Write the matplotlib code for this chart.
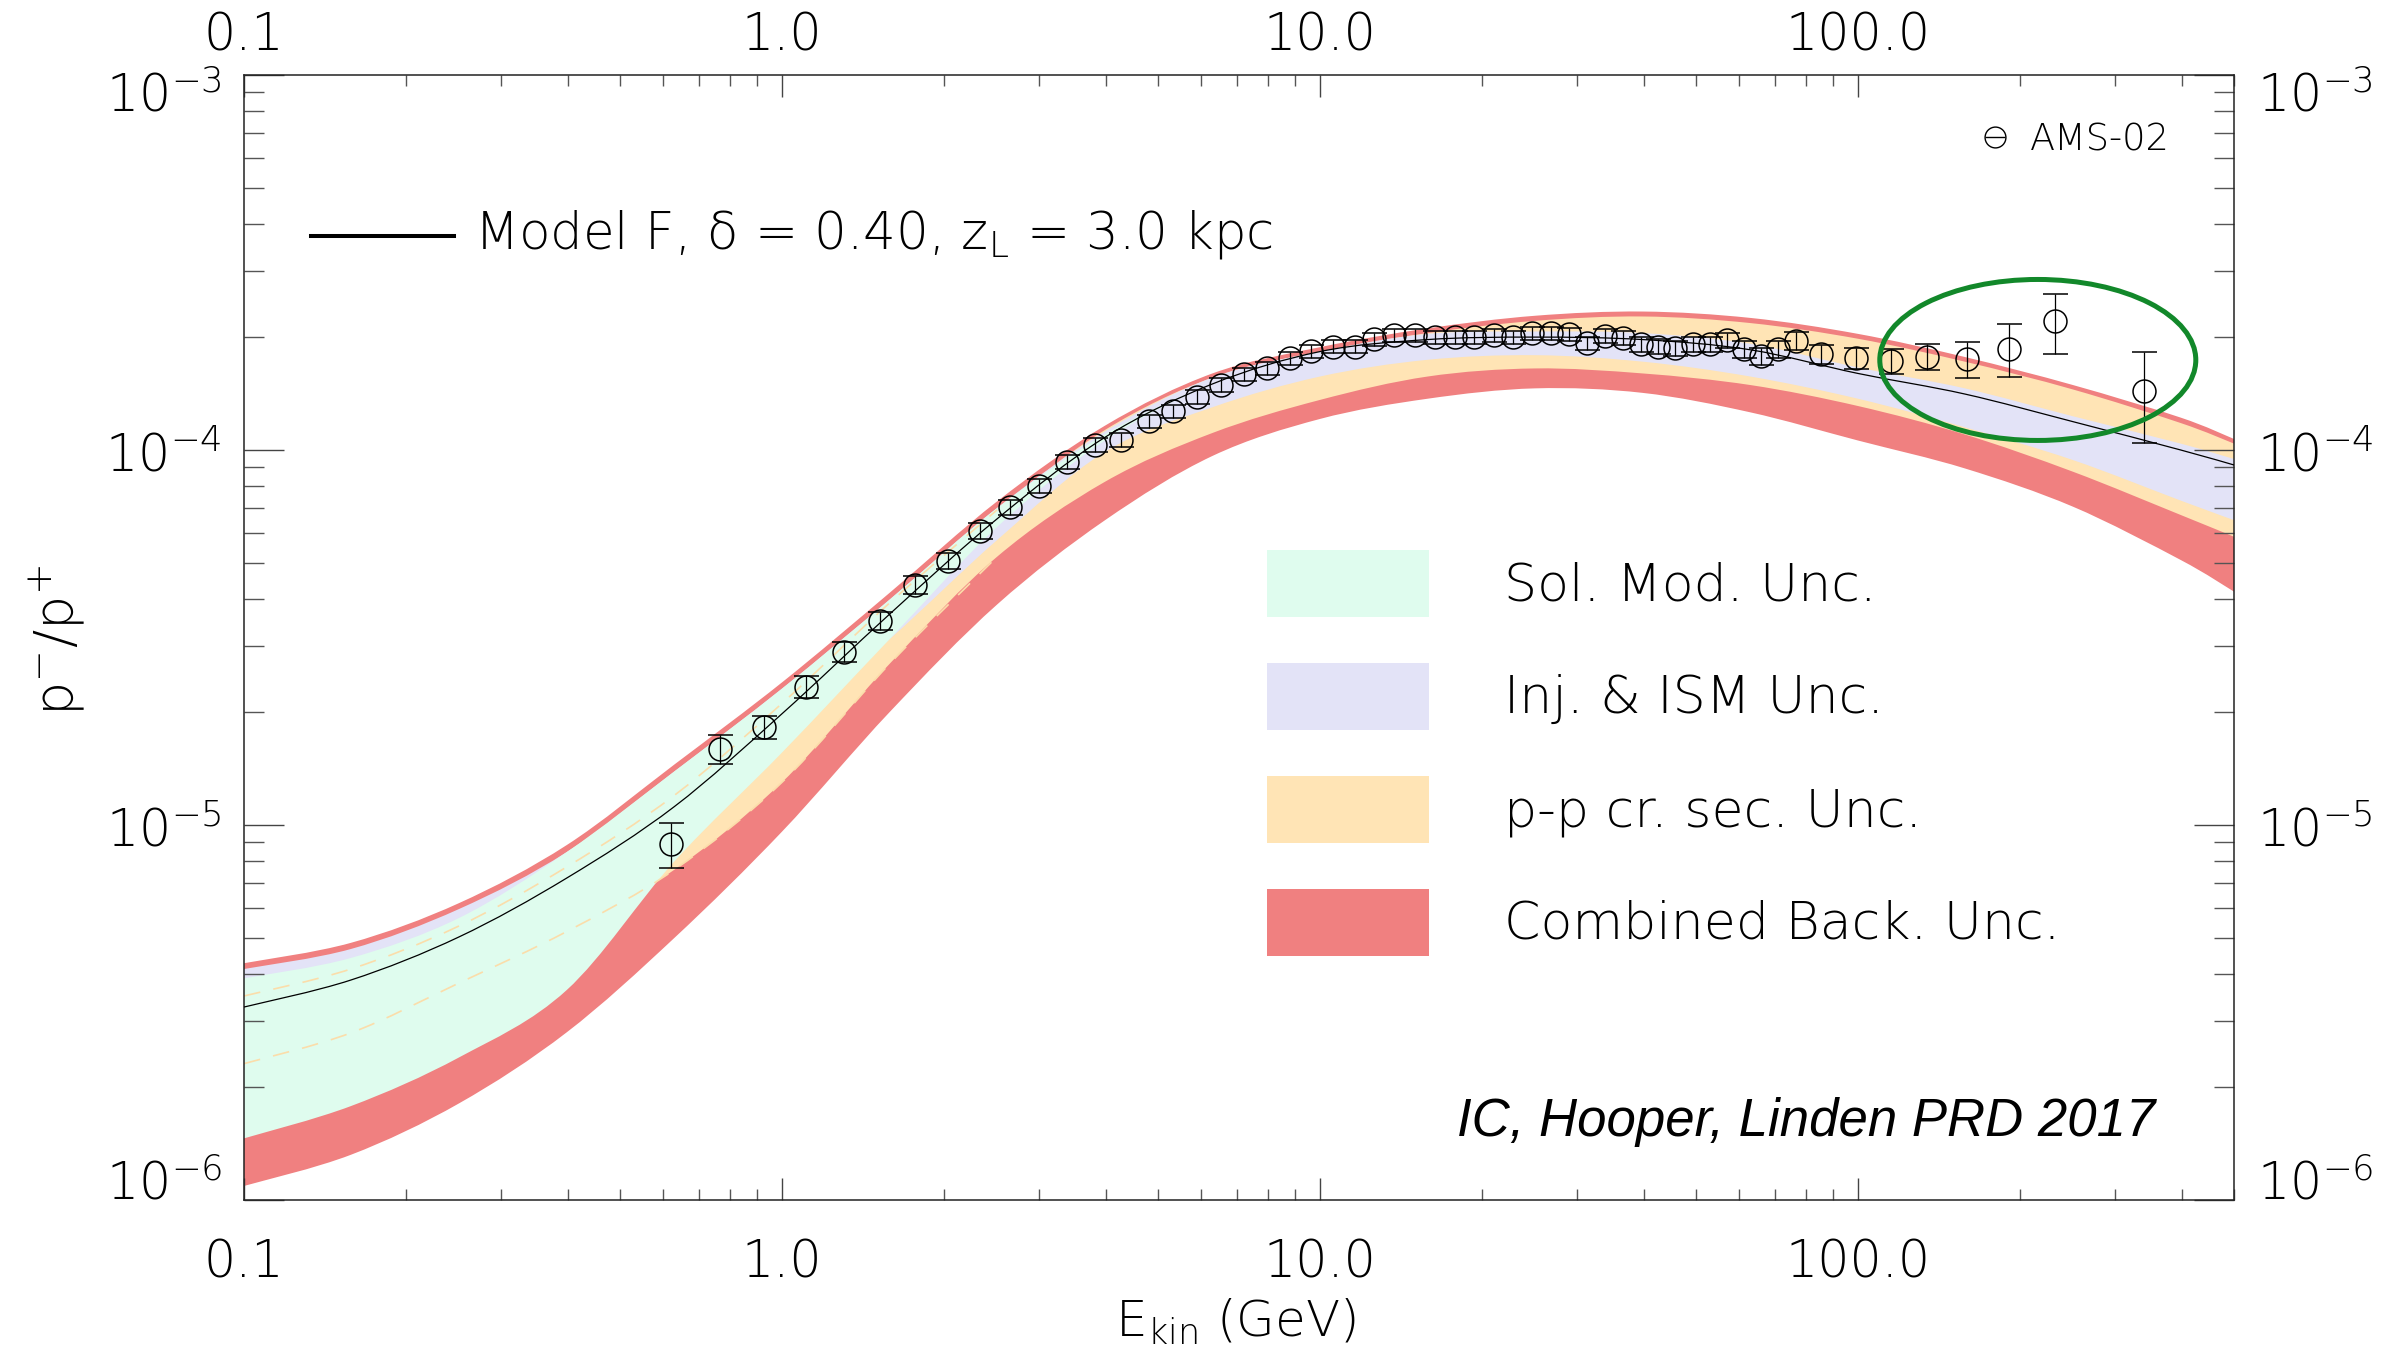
import numpy as np
import matplotlib
matplotlib.use("Agg")
import matplotlib.pyplot as plt
import matplotlib.transforms as mtransforms
from matplotlib.patches import Ellipse, Rectangle, PathPatch
from matplotlib.path import Path
from matplotlib.ticker import LogLocator, NullFormatter

# ---- background model bands (kinetic energy grid in GeV, ratio pbar/p) ----
grid_e = [0.1, 0.158, 0.251, 0.398, 0.631, 1.0, 1.585, 2.51, 3.98, 6.31,
          10.0, 15.85, 25.1, 39.8, 63.1, 100.0, 158.0, 251.0, 398.0, 500.0]

model_f = [3.27e-6, 3.86e-6, 5.03e-6, 7.22e-6, 1.12e-5, 1.98e-5, 3.65e-5, 6.55e-5, 1.08e-4, 1.50e-4,
           1.83e-4, 1.97e-4, 2.00e-4, 1.97e-4, 1.85e-4, 1.60e-4, 1.41e-4, 1.19e-4, 1.00e-4, 9.12e-5]

combined_lo = [1.09e-6, 1.32e-6, 1.81e-6, 2.80e-6, 5.00e-6, 9.60e-6, 2.00e-5, 3.87e-5, 6.49e-5, 9.64e-5,
               1.21e-4, 1.37e-4, 1.46e-4, 1.42e-4, 1.26e-4, 1.06e-4, 8.93e-5, 7.06e-5, 5.09e-5, 4.19e-5]
combined_hi = [4.28e-6, 4.85e-6, 6.19e-6, 8.84e-6, 1.45e-5, 2.40e-5, 4.16e-5, 7.29e-5, 1.16e-4, 1.60e-4,
               1.88e-4, 2.11e-4, 2.28e-4, 2.34e-4, 2.25e-4, 2.04e-4, 1.77e-4, 1.49e-4, 1.22e-4, 1.07e-4]

xsec_lo = [2.31e-6, 2.79e-6, 3.79e-6, 5.20e-6, 7.60e-6, 1.30e-5, 2.69e-5, 5.19e-5, 8.22e-5, 1.11e-4,
           1.36e-4, 1.57e-4, 1.65e-4, 1.60e-4, 1.49e-4, 1.31e-4, 1.10e-4, 8.75e-5, 6.71e-5, 5.87e-5]
xsec_hi = [3.50e-6, 4.13e-6, 5.38e-6, 7.73e-6, 1.20e-5, 2.11e-5, 3.91e-5, 6.92e-5, 1.13e-4, 1.56e-4,
           1.83e-4, 2.05e-4, 2.21e-4, 2.27e-4, 2.18e-4, 1.98e-4, 1.72e-4, 1.45e-4, 1.18e-4, 1.04e-4]

inj_lo = [2.98e-6, 3.52e-6, 4.59e-6, 6.59e-6, 1.02e-5, 1.80e-5, 3.13e-5, 5.75e-5, 9.88e-5, 1.30e-4,
          1.57e-4, 1.74e-4, 1.79e-4, 1.72e-4, 1.57e-4, 1.37e-4, 1.15e-4, 9.40e-5, 7.33e-5, 6.50e-5]
inj_hi = [4.13e-6, 4.67e-6, 5.97e-6, 8.47e-6, 1.39e-5, 2.31e-5, 3.99e-5, 7.00e-5, 1.12e-4, 1.56e-4,
          1.83e-4, 2.04e-4, 2.07e-4, 2.05e-4, 1.92e-4, 1.66e-4, 1.46e-4, 1.23e-4, 1.04e-4, 9.46e-5]

solmod_lo = [1.46e-6, 1.78e-6, 2.40e-6, 3.63e-6, 8.00e-6, 1.56e-5, 3.13e-5, 6.23e-5, 1.06e-4, 1.50e-4,
             1.83e-4, 1.97e-4, 2.00e-4, 1.97e-4, 1.85e-4, 1.60e-4, 1.41e-4, 1.19e-4, 1.00e-4, 9.12e-5]
solmod_hi = [3.90e-6, 4.42e-6, 5.65e-6, 8.47e-6, 1.39e-5, 2.31e-5, 3.99e-5, 7.00e-5, 1.10e-4, 1.50e-4,
             1.83e-4, 1.97e-4, 2.00e-4, 1.97e-4, 1.85e-4, 1.60e-4, 1.41e-4, 1.19e-4, 1.00e-4, 9.12e-5]

# ---- AMS-02 antiproton to proton ratio ----
ams_e = [0.622, 0.766, 0.926, 1.107, 1.304, 1.523, 1.766, 2.035, 2.332, 2.659,
         3.006, 3.388, 3.811, 4.274, 4.805, 5.32, 5.902, 6.546, 7.217, 7.96,
         8.786, 9.643, 10.57, 11.6, 12.6, 13.74, 15.0, 16.37, 17.82, 19.37,
         21.03, 22.83, 24.77, 26.89, 29.04, 31.37, 33.81, 36.64, 39.44, 42.53,
         45.71, 49.28, 53.08, 57.16, 61.32, 66.12, 71.15, 76.6, 85.4, 98.97,
         115.2, 134.5, 159.4, 191.0, 232.8, 340.4]
ams_ratio = [8.90e-6, 1.595e-5, 1.828e-5, 2.339e-5, 2.897e-5, 3.505e-5, 4.365e-5, 5.07e-5, 6.09e-5, 7.03e-5,
             8.02e-5, 9.31e-5, 1.031e-4, 1.063e-4, 1.193e-4, 1.268e-4, 1.384e-4, 1.493e-4, 1.592e-4, 1.652e-4,
             1.755e-4, 1.837e-4, 1.886e-4, 1.886e-4, 1.974e-4, 2.026e-4, 2.026e-4, 1.998e-4, 1.998e-4, 1.998e-4,
             2.026e-4, 1.998e-4, 2.047e-4, 2.047e-4, 2.034e-4, 1.925e-4, 2.014e-4, 1.986e-4, 1.913e-4, 1.886e-4,
             1.867e-4, 1.917e-4, 1.917e-4, 1.961e-4, 1.859e-4, 1.781e-4, 1.856e-4, 1.957e-4, 1.803e-4, 1.755e-4,
             1.729e-4, 1.773e-4, 1.745e-4, 1.862e-4, 2.208e-4, 1.437e-4]
ams_err = [1.2e-6, 1.4e-6, 1.3e-6, 1.55e-6, 1.8e-6, 2.0e-6, 2.4e-6, 2.5e-6, 3.0e-6, 3.2e-6,
           3.6e-6, 4.0e-6, 4.4e-6, 4.6e-6, 5.0e-6, 5.3e-6, 5.7e-6, 6.1e-6, 6.5e-6, 6.7e-6,
           7.0e-6, 7.3e-6, 7.5e-6, 7.5e-6, 7.8e-6, 8.0e-6, 8.0e-6, 8.0e-6, 8.0e-6, 8.0e-6,
           8.0e-6, 8.0e-6, 8.2e-6, 8.2e-6, 8.2e-6, 8.0e-6, 8.5e-6, 8.5e-6, 8.5e-6, 8.5e-6,
           8.5e-6, 9.0e-6, 9.0e-6, 9.5e-6, 9.5e-6, 9.5e-6, 1.0e-5, 1.05e-5, 1.05e-5, 1.1e-5,
           1.3e-5, 1.43e-5, 1.9e-5, 3.0e-5, 4.0e-5, 3.9e-5]

x_ticks = [0.1, 1.0, 10.0, 100.0]
x_tick_text = ["0.1", "1.0", "10.0", "100.0"]
y_ticks = [1e-3, 1e-4, 1e-5, 1e-6]
y_tick_text = [r"$10^{-3}$", r"$10^{-4}$", r"$10^{-5}$", r"$10^{-6}$"]

band_labels = ["Sol. Mod. Unc.", "Inj. & ISM Unc.", "p-p cr. sec. Unc.", "Combined Back. Unc."]
c_sol, c_inj, c_xsec, c_comb = "#DFFCEE", "#E3E3F7", "#FFE4B5", "#F08080"

plt.rcParams["font.family"] = ["DejaVu Sans"]
plt.rcParams["font.weight"] = 200
plt.rcParams["mathtext.fontset"] = "custom"
plt.rcParams["mathtext.rm"] = "DejaVu Sans:weight=200"
plt.rcParams["mathtext.it"] = "DejaVu Sans:weight=200"
plt.rcParams["mathtext.default"] = "rm"


def spline_verts(xs, ys):
    # Catmull-Rom through the points, done in log-log space, as cubic Bezier vertices
    p = np.column_stack([np.log10(xs), np.log10(ys)])
    n = len(p)
    verts = [p[0]]
    for i in range(n - 1):
        a = p[max(i - 1, 0)]
        b, c = p[i], p[i + 1]
        d = p[min(i + 2, n - 1)]
        verts += [b + (c - a) / 6.0, c - (d - b) / 6.0, c]
    return 10 ** np.array(verts)


def curve_path(xs, ys):
    v = spline_verts(xs, ys)
    return Path(v, [Path.MOVETO] + [Path.CURVE4] * (len(v) - 1))


def band_path(xs, lo, hi):
    up = spline_verts(xs, hi)
    dn = spline_verts(xs[::-1], lo[::-1])
    v = np.vstack([up, dn, up[:1]])
    codes = ([Path.MOVETO] + [Path.CURVE4] * (len(up) - 1) + [Path.LINETO]
             + [Path.CURVE4] * (len(dn) - 1) + [Path.CLOSEPOLY])
    return Path(v, codes)


fig = plt.figure(figsize=(23.93, 13.60), dpi=100)
ax = fig.add_axes([0.10197, 0.11765, 0.83159, 0.82721])
ax.set_xscale("log")
ax.set_yscale("log")
ax.set_xlim(0.1, 500)
ax.set_ylim(1e-6, 1e-3)

# uncertainty bands, widest first
for lo, hi, col, z in [(combined_lo, combined_hi, c_comb, 1.0), (xsec_lo, xsec_hi, c_xsec, 1.1),
                       (inj_lo, inj_hi, c_inj, 1.2), (solmod_lo, solmod_hi, c_sol, 1.3)]:
    ax.add_patch(PathPatch(band_path(grid_e, lo, hi), fc=col, ec="none", lw=0, zorder=z))
for edge in (xsec_hi, xsec_lo):
    ax.add_patch(PathPatch(curve_path(grid_e[:8], edge[:8]), fill=False, ec="#FBDDAA",
                           lw=1.2, ls=(0, (10, 8)), zorder=2))

ax.add_patch(PathPatch(curve_path(grid_e, model_f), fill=False, ec="black", lw=0.9, zorder=3))

ax.errorbar(ams_e, ams_ratio, yerr=ams_err, fmt="o", ms=16.5, mfc="none", mec="black",
            mew=1.1, ecolor="black", elinewidth=0.9, capsize=9, capthick=0.9, zorder=4)

ax.add_patch(Ellipse((0.9014, 0.7467), 0.1588, 0.1431, transform=ax.transAxes,
                     fill=False, ec="#12882A", lw=3.6, zorder=5))

for axis in (ax.xaxis, ax.yaxis):
    axis.set_major_locator(LogLocator(base=10, numticks=12))
    axis.set_minor_locator(LogLocator(base=10, subs=np.arange(2, 10), numticks=12))
    axis.set_major_formatter(NullFormatter())
    axis.set_minor_formatter(NullFormatter())
ax.tick_params(axis="x", which="major", direction="in", length=15.8, width=1.0,
               top=True, bottom=True, color="#444444")
ax.tick_params(axis="x", which="minor", direction="in", length=7.9, width=1.0,
               top=True, bottom=True, color="#555555")
ax.tick_params(axis="y", which="major", direction="in", length=28.8, width=1.0,
               left=True, right=True, color="#444444")
ax.tick_params(axis="y", which="minor", direction="in", length=14.4, width=1.0,
               left=True, right=True, color="#555555")
for sp in ax.spines.values():
    sp.set_linewidth(1.1)
    sp.set_color("#222222")

# tick labels on all four sides
tx = mtransforms.blended_transform_factory(ax.transData, ax.transAxes)
for v, s in zip(x_ticks, x_tick_text):
    ax.text(v, -0.0693, s, transform=tx, ha="center", va="baseline", fontsize=36.5)
    ax.text(v, 1.0222, s, transform=tx, ha="center", va="baseline", fontsize=36.5)

ty = mtransforms.blended_transform_factory(ax.transAxes, ax.transData)
y_shift = [37, 22, 22, 0]
for v, s, sh in zip(y_ticks, y_tick_text, y_shift):
    off = mtransforms.ScaledTranslation(0, -sh / 100.0, fig.dpi_scale_trans)
    ax.text(-0.0111, v, s, transform=ty + off, ha="right", va="baseline", fontsize=36.5)
    ax.text(1.0116, v, s, transform=ty + off, ha="left", va="baseline", fontsize=36.5)

ax.text(0.4985, -0.1218, r"E$_{\rm kin}$ (GeV)", transform=ax.transAxes,
        ha="center", va="baseline", fontsize=36)
ax.text(-0.094, 0.497, r"p$^{-}$/p$^{+}$", transform=ax.transAxes, rotation=90,
        ha="center", va="center", fontsize=39)

# model key
ax.plot([0.0337, 0.1055], [0.8569, 0.8569], transform=ax.transAxes, color="black", lw=2.9)
ax.text(0.1156, 0.8462, r"Model F, δ = 0.40, z$_{\rm L}$ = 3.0 kpc", transform=ax.transAxes,
        ha="left", va="baseline", fontsize=37)

# data key
ax.plot([0.8797], [0.9449], "o", ms=15, mfc="none", mec="black", mew=1.0, transform=ax.transAxes)
ax.plot([0.8797], [0.9449], "_", ms=15, mec="black", mew=1.0, transform=ax.transAxes)
ax.text(0.8975, 0.9327, "AMS-02", transform=ax.transAxes, ha="left", va="baseline", fontsize=26.5)

# band key
patch_y = [0.5182, 0.4178, 0.3173, 0.2169]
text_y = [0.5333, 0.4329, 0.3324, 0.2320]
for lab, col, py, tyy in zip(band_labels, [c_sol, c_inj, c_xsec, c_comb], patch_y, text_y):
    ax.add_patch(Rectangle((0.5141, py), 0.0814, 0.0596, transform=ax.transAxes,
                           color=col, lw=0, zorder=6))
    ax.text(0.6332, tyy, lab, transform=ax.transAxes, ha="left", va="baseline", fontsize=37.5)

ax.text(0.9603, 0.0569, "IC, Hooper, Linden PRD 2017", transform=ax.transAxes,
        ha="right", va="baseline", fontsize=38, family="Liberation Sans", style="italic",
        weight="normal")

fig.savefig("out.png", dpi=100)
